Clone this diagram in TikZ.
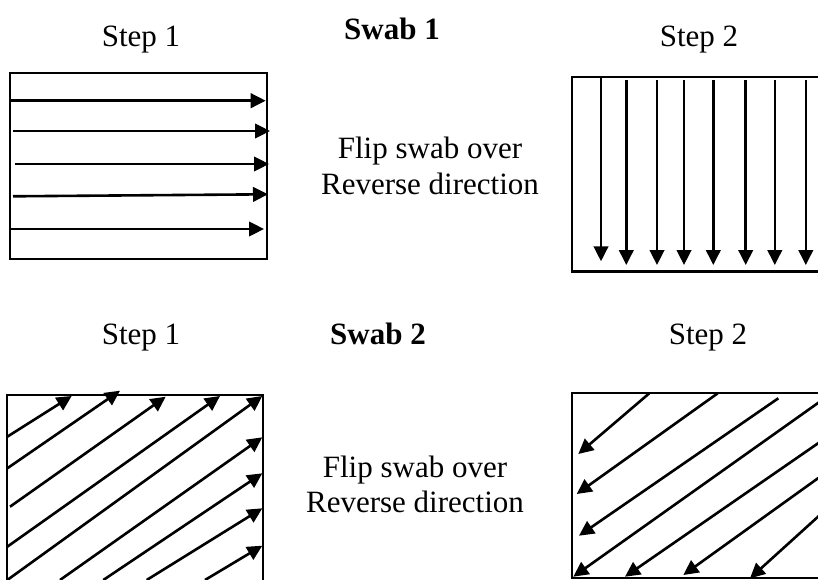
\documentclass[tikz,border=0pt]{standalone}
\usepackage{fontspec}
\setmainfont{Liberation Serif}
\usetikzlibrary{arrows.meta}
\begin{document}
\begin{tikzpicture}[x=1pt,y=-1pt,
  frame/.style={line width=2.2pt},
  stroke/.style={line width=2.6pt,-{Triangle[length=15pt,width=14.5pt]}},
  txt/.style={font=\fontsize{31}{35}\selectfont, inner sep=0pt, anchor=base},
  ttl/.style={txt, font=\fontsize{31}{35}\selectfont\bfseries}]
\useasboundingbox (0,0) rectangle (818,580);
\clip (0,0) rectangle (818,580);

% ---- Swab 1 ----
\node[txt] (s1a) at (141,47) {Step 1};
\node[ttl] (sw1) at (392,40) {Swab 1};
\node[txt] (s1b) at (699,47) {Step 2};
\node[txt] (f1a) at (430,159) {Flip swab over};
\node[txt] (f1b) at (430,194) {Reverse direction};

% step 1: horizontal strokes
\draw[frame] (10,73.3) rectangle (266.7,259.3);
\draw[stroke] (11,100.7) -- (265.7,100.7);
\draw[stroke] (13,131) -- (270,131);
\draw[stroke] (15,164) -- (269,164);
\draw[stroke] (13,196.3) -- (268,194.3);
\draw[stroke] (9,229) -- (264,229);

% step 2: vertical strokes
\draw[frame] (572,76.7) rectangle (826,271.5);
\draw[stroke] (601,76) -- (601,261.3);
\foreach \x in {626.3,657,684,713.3,745.7,774.8,805.8}
  \draw[stroke] (\x,80) -- (\x,265);

% ---- Swab 2 ----
\node[txt] (s2a) at (141,344) {Step 1};
\node[ttl] (sw2) at (378,344) {Swab 2};
\node[txt] (s2b) at (708,344) {Step 2};
\node[txt] (f2a) at (415,477) {Flip swab over};
\node[txt] (f2b) at (415,512) {Reverse direction};

% step 1: diagonal strokes towards upper right
\draw[frame] (7.3,395) rectangle (263.3,581);
\draw[stroke] (7.3,436.7) -- (71.7,396);
\draw[stroke] (7.3,468.3) -- (120,390.7);
\draw[stroke] (10,506.7) -- (165.7,396.7);
\draw[stroke] (7.3,546.7) -- (220,396);
\draw[stroke] (7.3,580) -- (262.3,396);
\draw[stroke] (60,580) -- (262.3,437.3);
\draw[stroke] (103.3,580) -- (262.3,473.3);
\draw[stroke] (146.7,580) -- (262.3,508.3);
\draw[stroke] (205,580) -- (262.3,545.7);

% step 2: diagonal strokes towards lower left
\draw[frame] (572,393.3) rectangle (826,578.3);
\draw[stroke] (649.3,393.3) -- (578.3,454);
\draw[stroke] (717.7,393.3) -- (576.7,494);
\draw[stroke] (778.3,398.3) -- (579,535.7);
\draw[stroke] (826,397.3) -- (573.3,576.7);
\draw[stroke] (826,437.8) -- (625,576.7);
\draw[stroke] (826,472.5) -- (683.3,575);
\draw[stroke] (826,509.5) -- (750,578.3);
\end{tikzpicture}
\end{document}
